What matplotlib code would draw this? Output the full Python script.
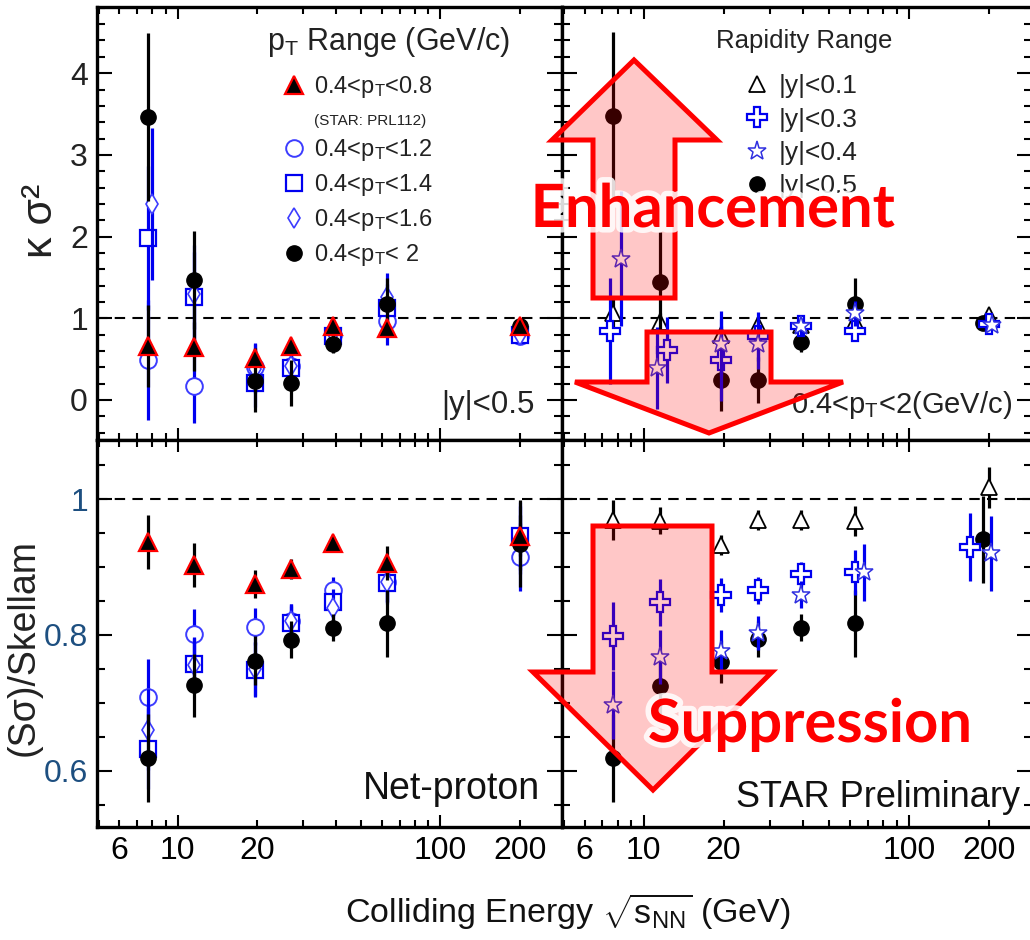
import matplotlib
matplotlib.use('Agg')
import matplotlib.pyplot as plt
import matplotlib.patheffects as pe
from matplotlib.patches import Polygon
from matplotlib.lines import Line2D
from matplotlib.ticker import FixedLocator, FuncFormatter

# ---- data ----
energy = [7.7, 11.5, 19.6, 27, 39, 62.4, 200]

# kappa*sigma^2, |y|<0.5, different pT windows
kap_pt08 = [0.66, 0.65, 0.51, 0.66, 0.90, 0.88, 0.90]
kap_pt08_err = [0.50, 0.30, 0.12, 0.08, 0.06, 0.05, 0.04]
kap_pt12 = [0.49, 0.17, 0.40, 0.42, 0.80, 0.97, 0.78]
kap_pt12_err = [0.73, 0.45, 0.30, 0.20, 0.12, 0.30, 0.05]
kap_pt14 = [1.98, 1.26, 0.21, 0.39, 0.78, 1.12, 0.80]
kap_pt14_err = [0.88, 0.55, 0.30, 0.22, 0.12, 0.30, 0.05]
kap_pt16_x = [8.0, 11.5, 19.6, 27, 39, 62.4, 200]
kap_pt16 = [2.40, 1.30, 0.38, 0.42, 0.82, 1.26, 0.80]
kap_pt16_err = [0.93, 0.60, 0.30, 0.22, 0.12, 0.30, 0.05]
kap_pt20 = [3.46, 1.47, 0.23, 0.21, 0.69, 1.17, 0.90]
kap_pt20_err = [1.03, 0.60, 0.38, 0.28, 0.12, 0.32, 0.06]

# kappa*sigma^2, 0.4<pT<2, different rapidity windows
kap_y01 = [1.06, 0.96, 0.80, 0.92, 0.92, 0.97, 1.04]
kap_y01_err = [0.17, 0.10, 0.10, 0.06, 0.05, 0.06, 0.03]
kap_y03_x = [7.5, 12.2, 19.6, 27, 39, 62.4, 200]
kap_y03 = [0.84, 0.61, 0.49, 0.78, 0.91, 0.84, 0.93]
kap_y03_err = [0.65, 0.40, 0.50, 0.30, 0.10, 0.12, 0.05]
kap_y04_x = [8.2, 11.2, 19.6, 27, 39, 62.4, 205]
kap_y04 = [1.73, 0.39, 0.69, 0.68, 0.90, 1.06, 0.92]
kap_y04_err = [0.83, 0.50, 0.40, 0.30, 0.10, 0.15, 0.05]
kap_y05_x = [7.7, 11.5, 19.6, 27, 39, 62.4, 190]
kap_y05 = [3.47, 1.45, 0.25, 0.24, 0.71, 1.17, 0.94]
kap_y05_err = [1.03, 0.60, 0.38, 0.28, 0.12, 0.32, 0.06]

# (S*sigma)/Skellam, |y|<0.5, different pT windows
ss_pt08 = [0.937, 0.903, 0.875, 0.897, 0.935, 0.906, 0.946]
ss_pt08_err = [0.040, 0.033, 0.020, 0.015, 0.010, 0.025, 0.030]
ss_pt12 = [0.709, 0.801, 0.812, 0.820, 0.866, 0.878, 0.915]
ss_pt12_err = [0.055, 0.037, 0.027, 0.025, 0.020, 0.030, 0.050]
ss_pt14 = [0.633, 0.757, 0.749, 0.818, 0.848, 0.876, 0.945]
ss_pt14_err = [0.060, 0.040, 0.040, 0.025, 0.020, 0.030, 0.050]
ss_pt16 = [0.661, 0.756, 0.750, 0.820, 0.840, 0.878, 0.940]
ss_pt16_err = [0.060, 0.040, 0.040, 0.025, 0.020, 0.030, 0.050]
ss_pt20 = [0.619, 0.726, 0.762, 0.793, 0.811, 0.817, 0.934]
ss_pt20_err = [0.065, 0.046, 0.036, 0.027, 0.020, 0.049, 0.064]

# (S*sigma)/Skellam, 0.4<pT<2, different rapidity windows
ss_y01 = [0.969, 0.968, 0.932, 0.969, 0.969, 0.967, 1.017]
ss_y01_err = [0.030, 0.020, 0.015, 0.015, 0.015, 0.022, 0.030]
ss_y03_x = [7.7, 11.5, 19.6, 27, 39, 62.4, 170]
ss_y03 = [0.798, 0.848, 0.859, 0.866, 0.890, 0.892, 0.929]
ss_y03_err = [0.050, 0.035, 0.025, 0.020, 0.018, 0.033, 0.050]
ss_y04_x = [7.7, 11.5, 19.6, 27, 39, 67.3, 203]
ss_y04 = [0.697, 0.768, 0.777, 0.803, 0.859, 0.892, 0.920]
ss_y04_err = [0.050, 0.040, 0.030, 0.025, 0.020, 0.042, 0.055]
ss_y05_x = [7.7, 11.5, 19.6, 27, 39, 62.4, 190]
ss_y05 = [0.619, 0.725, 0.761, 0.794, 0.811, 0.817, 0.941]
ss_y05_err = [0.065, 0.046, 0.032, 0.027, 0.020, 0.049, 0.064]

x_labeled = [6, 10, 20, 100, 200]

# ---- fonts ----
plt.rcParams['font.family'] = ['Liberation Sans', 'DejaVu Sans']
plt.rcParams['mathtext.fontset'] = 'custom'
plt.rcParams['mathtext.rm'] = 'Liberation Sans'
plt.rcParams['mathtext.it'] = 'Liberation Sans:italic'
plt.rcParams['mathtext.bf'] = 'Liberation Sans:bold'

W, H = 1030, 940
fig = plt.figure(figsize=(W / 100, H / 100), dpi=100)


def px_axes(x0, y0, x1, y1):
    # axes from a pixel box (origin top-left)
    return fig.add_axes([x0 / W, 1 - y1 / H, (x1 - x0) / W, (y1 - y0) / H])


def fig_xy(x, y):
    return x / W, 1 - y / H


ax_tl = px_axes(97, 7, 562, 440)
ax_tr = px_axes(562, 7, 1032, 440)
ax_bl = px_axes(97, 440, 562, 827)
ax_br = px_axes(562, 440, 1032, 827)

BLUE = '#0000f0'


def style_axis(ax, ylim, ymajor, yminor, ylabels):
    ax.set_xscale('log')
    ax.set_xlim(4.93, 290)
    ax.set_ylim(*ylim)
    ax.xaxis.set_major_locator(FixedLocator([10, 100]))
    ax.xaxis.set_minor_locator(FixedLocator([5, 6, 7, 8, 9, 20, 30, 40, 50, 60, 70, 80, 90, 200]))
    ax.xaxis.set_major_formatter(FuncFormatter(lambda v, p: f'{v:g}'))
    ax.xaxis.set_minor_formatter(FuncFormatter(lambda v, p: f'{v:g}' if round(v) in x_labeled else ''))
    ax.yaxis.set_major_locator(FixedLocator(ymajor))
    ax.yaxis.set_minor_locator(FixedLocator(yminor))
    ax.set_yticklabels(ylabels)
    ax.tick_params(which='both', direction='in', top=True, right=True, width=1.5)
    ax.tick_params(axis='x', which='major', length=8.5)
    ax.tick_params(axis='x', which='minor', length=4.8)
    ax.tick_params(axis='y', which='major', length=11)
    ax.tick_params(axis='y', which='minor', length=5.5)
    ax.tick_params(axis='x', which='both', pad=6.3, labelsize=23)
    ax.tick_params(axis='y', labelsize=23, pad=6.5)
    for s in ax.spines.values():
        s.set_linewidth(2.4)
    ax.axhline(1, color='black', lw=1.5, dashes=(5, 3.5), zorder=1)


kap_major = [0, 1, 2, 3, 4]
kap_minor = [round(-0.4 + 0.2 * i, 1) for i in range(27)]
ss_major = [0.6, 0.8, 1.0]
ss_minor = [round(0.55 + 0.05 * i, 2) for i in range(11)]

for ax in (ax_tl, ax_tr):
    style_axis(ax, (-0.49, 4.81), kap_major, kap_minor, ['0', '1', '2', '3', '4'])
    ax.tick_params(axis='x', which='both', labelbottom=False)
for ax in (ax_bl, ax_br):
    style_axis(ax, (0.5176, 1.0868), ss_major, ss_minor, ['0.6', '0.8', '1'])
for ax in (ax_tr, ax_br):
    ax.tick_params(axis='y', which='both', labelleft=False)
for lab in ax_tl.get_yticklabels():
    lab.set_color('#222222')
for lab in ax_bl.get_yticklabels():
    lab.set_color('#1d4f80')

# marker styles
st_tri = dict(marker='^', ms=13, mfc='black', mec='red', mew=1.6, ecolor='black')
st_circ = dict(marker='o', ms=12, mfc='white', mec='#3c3cff', mew=1.4, ecolor=BLUE)
st_sq = dict(marker='s', ms=12, mfc='white', mec=BLUE, mew=1.6, ecolor=BLUE)
st_dia = dict(marker='d', ms=10, mfc='white', mec='#3c3cff', mew=1.2, ecolor=BLUE)
st_dot = dict(marker='o', ms=11, mfc='black', mec='black', mew=1, ecolor='black')
st_otri = dict(marker='^', ms=12, mfc='white', mec='black', mew=1.3, ecolor='black')
st_plus = dict(marker='P', ms=14, mfc='white', mec=BLUE, mew=1.6, ecolor=BLUE)
st_star = dict(marker='*', ms=14, mfc='white', mec='#3030e0', mew=1.1, ecolor=BLUE)


def draw(ax, x, y, err, style, z):
    return ax.errorbar(x, y, yerr=err, ls='none', elinewidth=2.3, capsize=0, zorder=z, **style)


# top-left: kappa sigma^2 vs pT window
h_c = draw(ax_tl, energy, kap_pt12, kap_pt12_err, st_circ, 3)
h_s = draw(ax_tl, energy, kap_pt14, kap_pt14_err, st_sq, 4)
h_d = draw(ax_tl, kap_pt16_x, kap_pt16, kap_pt16_err, st_dia, 5)
h_k = draw(ax_tl, energy, kap_pt20, kap_pt20_err, st_dot, 6)
h_t = draw(ax_tl, energy, kap_pt08, kap_pt08_err, st_tri, 7)

# bottom-left: S sigma / Skellam vs pT window
draw(ax_bl, energy, ss_pt12, ss_pt12_err, st_circ, 3)
draw(ax_bl, energy, ss_pt14, ss_pt14_err, st_sq, 4)
draw(ax_bl, energy, ss_pt16, ss_pt16_err, st_dia, 5)
draw(ax_bl, energy, ss_pt20, ss_pt20_err, st_dot, 6)
draw(ax_bl, energy, ss_pt08, ss_pt08_err, st_tri, 7)

# top-right: kappa sigma^2 vs rapidity window
g_t = draw(ax_tr, energy, kap_y01, kap_y01_err, st_otri, 3)
g_k = draw(ax_tr, kap_y05_x, kap_y05, kap_y05_err, st_dot, 4)
g_p = draw(ax_tr, kap_y03_x, kap_y03, kap_y03_err, st_plus, 5)
g_s = draw(ax_tr, kap_y04_x, kap_y04, kap_y04_err, st_star, 6)

# bottom-right: S sigma / Skellam vs rapidity window
draw(ax_br, energy, ss_y01, ss_y01_err, st_otri, 3)
draw(ax_br, ss_y05_x, ss_y05, ss_y05_err, st_dot, 4)
draw(ax_br, ss_y03_x, ss_y03, ss_y03_err, st_plus, 5)
draw(ax_br, ss_y04_x, ss_y04, ss_y04_err, st_star, 6)

# legends
pt = r'$\mathrm{p}_\mathrm{T}$'
blank = Line2D([], [], ls='none')
fig.text(*fig_xy(267, 50), pt + ' Range (GeV/c)', fontsize=22, color='#222222', va='baseline')
leg1 = ax_tl.legend([h_t[0], blank, h_c[0], h_s[0], h_d[0], h_k[0]],
                    ['0.4<' + pt + '<0.8', '(STAR: PRL112)', '0.4<' + pt + '<1.2',
                     '0.4<' + pt + '<1.4', '0.4<' + pt + '<1.6', '0.4<' + pt + '< 2'],
                    loc='upper left', bbox_to_anchor=fig_xy(276, 74),
                    bbox_transform=fig.transFigure, frameon=False, fontsize=17,
                    handlelength=1.5, handletextpad=0.1, labelspacing=0.38, borderpad=0,
                    borderaxespad=0)
leg1.get_texts()[1].set_fontsize(11)
for t in leg1.get_texts():
    t.set_color('#222222')

fig.text(*fig_xy(804, 48), 'Rapidity Range', fontsize=18.5, color='#222222',
         ha='center', va='baseline')
leg2 = ax_tr.legend([g_t[0], g_p[0], g_s[0], g_k[0]],
                    ['|y|<0.1', '|y|<0.3', '|y|<0.4', '|y|<0.5'],
                    loc='upper left', bbox_to_anchor=fig_xy(739, 74),
                    bbox_transform=fig.transFigure, frameon=False, fontsize=19,
                    handlelength=1.4, handletextpad=0.1, labelspacing=0.36, borderpad=0,
                    borderaxespad=0)
for t in leg2.get_texts():
    t.set_color('#222222')

# panel captions
ax_tl.text(0.942, 0.062, '|y|<0.5', transform=ax_tl.transAxes, ha='right', va='baseline',
           fontsize=22.5, color='#222222')
ax_tr.text(0.957, 0.062, '0.4<' + pt + '<2(GeV/c)', transform=ax_tr.transAxes, ha='right',
           va='baseline', fontsize=21, color='#222222')
ax_bl.text(0.953, 0.072, 'Net-proton', transform=ax_bl.transAxes, ha='right', va='baseline',
           fontsize=27, color='#111111')
ax_br.text(0.974, 0.052, 'STAR Preliminary', transform=ax_br.transAxes, ha='right',
           va='baseline', fontsize=26, color='#111111')

# axis titles
fig.text(*fig_xy(41, 221), 'κ σ²', rotation=90, ha='center', va='center',
         fontsize=31, color='#222222')
fig.text(*fig_xy(24, 648), '(Sσ)/Skellam', rotation=90, ha='center', va='center',
         fontsize=27, color='#222222')
fig.text(*fig_xy(568, 923), r'Colliding Energy $\sqrt{\mathrm{s}_\mathrm{NN}}$ (GeV)',
         ha='center', va='baseline', fontsize=24.5, color='#111111')

# ---- annotation arrows (pixel coordinates on an overlay) ----
ov = fig.add_axes([0, 0, 1, 1], zorder=10)
ov.set_xlim(0, W)
ov.set_ylim(H, 0)
ov.axis('off')
ov.patch.set_alpha(0)

up_arrow = [(593, 298), (593, 140), (552, 140), (634, 60), (717, 140), (675, 140), (675, 298)]
down_small = [(647, 332), (771, 332), (771, 382), (843, 382), (709, 433), (575, 382), (647, 382)]
down_big = [(593, 526), (712, 526), (712, 672), (772, 672), (653, 790), (533, 672), (593, 672)]
for pts in (up_arrow, down_small, down_big):
    ov.add_patch(Polygon(pts, closed=True, facecolor=(1, 0, 0, 0.22), edgecolor='#ff0000',
                         lw=3.6, joinstyle='miter'))

glow = [pe.withStroke(linewidth=8, foreground=(1, 1, 1, 0.85))]
ov.text(713, 227, 'Enhancement', ha='center', va='baseline', fontsize=43, color='#ff0000',
        fontweight='bold', family='Lato', path_effects=glow)
ov.text(810, 742, 'Suppression', ha='center', va='baseline', fontsize=43, color='#ff0000',
        fontweight='bold', family='Lato', path_effects=glow)

fig.savefig('out.png', dpi=100)
